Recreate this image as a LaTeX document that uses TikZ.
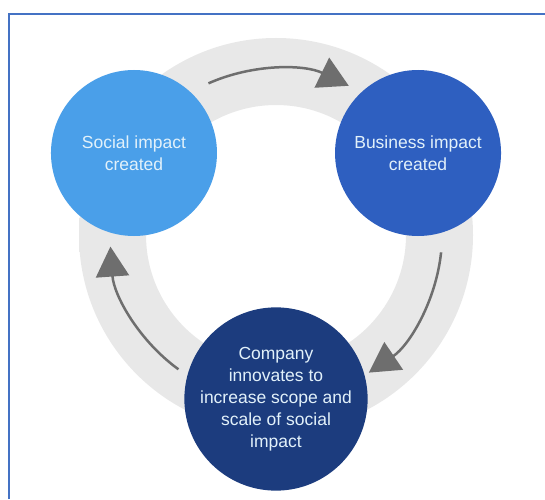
\documentclass[tikz,border=0pt]{standalone}
\usepackage{fontspec}
\setmainfont{Liberation Sans}
\usetikzlibrary{arrows.meta, calc}

\definecolor{frameblue}{HTML}{4472C4}
\definecolor{socialblue}{HTML}{4A9FE9}
\definecolor{businessblue}{HTML}{2E5FC0}
\definecolor{companyblue}{HTML}{1C3C7E}
\definecolor{ringgray}{HTML}{D2D2D2}
\definecolor{ringmid}{HTML}{DCDCDC}
\definecolor{ringlight}{HTML}{E8E8E8}
\definecolor{arrowgray}{HTML}{6E6E6E}
\definecolor{labeltext}{HTML}{E2F1FA}

% ring shading: light at the inner edge, darker towards the outside
\pgfdeclareradialshading{ringshade}{\pgfpoint{0bp}{0bp}}{%
  color(0bp)=(ringlight); color(33bp)=(ringlight);
  color(40bp)=(ringmid); color(50bp)=(ringgray)}

\begin{document}
\begin{tikzpicture}[
    x=1pt, y=1pt,
    stage/.style={circle, minimum size=166pt, inner sep=0pt, align=center,
        text=labeltext, font=\fontsize{17.5}{22}\selectfont},
    cyclearrow/.style={draw=arrowgray, line width=2.5pt,
        -{Triangle[length=30pt, width=33pt]}},
    >=Stealth
]
    \useasboundingbox (0,0) rectangle (545,499);
    \fill[white] (0,0) rectangle (545,499);
    % frame (runs off the page on the right and bottom)
    \draw[frameblue, line width=2.2pt] (9,0) -- (9,485) -- (545,485);

    % grey ring behind the stages
    \coordinate (ring) at (276,264);
    \shade[shading=ringshade, even odd rule] (ring) circle[radius=197] (ring) circle[radius=130];

    % arrows around the ring
    \draw[cyclearrow] ($(ring)+(114:166)$) arc[start angle=114, end angle=64, radius=166];
    \draw[cyclearrow] ($(ring)+(-6:166)$) arc[start angle=-6, end angle=-56, radius=166];
    \draw[cyclearrow] ($(ring)+(234:166)$) arc[start angle=234, end angle=184, radius=166];

    % the three stages
    \node[stage, fill=socialblue] (social) at ($(ring)+(150:164)$) {Social impact\\created};
    \node[stage, fill=businessblue] (business) at ($(ring)+(30:164)$) {Business impact\\created};
    \node[stage, fill=companyblue] (company) at ($(ring)+(270:164)$)
        {Company\\innovates to\\increase scope and\\scale of social\\impact};
\end{tikzpicture}
\end{document}
